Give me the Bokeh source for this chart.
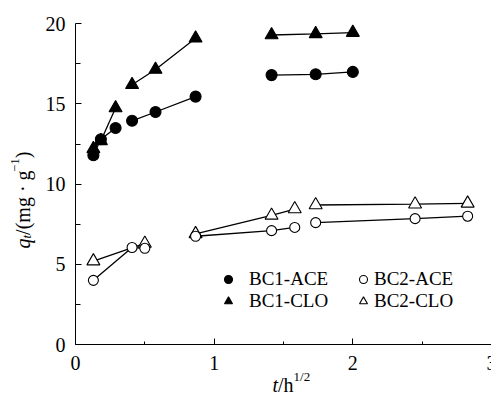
import math
from bokeh.plotting import figure
from bokeh.models import Range1d, FixedTicker, Legend, LegendItem, Label, LinearAxis
from bokeh.core.properties import value
from bokeh.embed import file_html
from bokeh.resources import INLINE

# ---------------- data (t in h^1/2, q in mg/g) ----------------
bc1_ace_t = [0.129, 0.183, 0.289, 0.408, 0.577, 0.866, 1.414, 1.732, 2.000]
bc1_ace_q = [11.8, 12.8, 13.5, 13.95, 14.5, 15.46, 16.8, 16.85, 17.0]
bc1_ace_seg = [1, 1, 1, 2, 2, 2, 3, 3, 3]

bc1_clo_t = [0.129, 0.183, 0.289, 0.408, 0.577, 0.866, 1.414, 1.732, 2.000]
bc1_clo_q = [12.2, 12.7, 14.75, 16.2, 17.15, 19.1, 19.3, 19.37, 19.45]
bc1_clo_seg = [1, 1, 1, 2, 2, 2, 3, 3, 3]

bc2_ace_t = [0.129, 0.408, 0.500, 0.866, 1.414, 1.581, 1.732, 2.449, 2.828]
bc2_ace_q = [4.0, 6.05, 6.0, 6.75, 7.1, 7.3, 7.6, 7.85, 8.0]
bc2_ace_seg = [1, 1, 1, 2, 2, 2, 3, 3, 3]

bc2_clo_t = [0.129, 0.500, 0.866, 1.414, 1.581, 1.732, 2.449, 2.828]
bc2_clo_q = [5.2, 6.3, 6.9, 8.05, 8.45, 8.7, 8.75, 8.8]
bc2_clo_seg = [1, 1, 2, 2, 2, 3, 3, 3]

x_ticks = [0, 1, 2, 3]
x_tick_labels = ["0", "1", "2", "3"]
x_minor = [0.5, 1.5, 2.5]
y_ticks = [0, 5, 10, 15, 20]
y_tick_labels = ["0", "5", "10", "15", "20"]
y_minor = [2.5, 7.5, 12.5, 17.5]

FONT = "Liberation Serif"

W, H = 491, 394
X0, X3 = 75.0, 491.0      # pixel of t=0 and t=3
Y0, Y20 = 344.0, 23.3     # pixel of q=0 and q=20
sx = (X3 - X0) / 3.0
sy = (Y0 - Y20) / 20.0

p = figure(width=W, height=H, output_backend="svg", toolbar_location=None,
           x_axis_location=None, y_axis_location=None,
           x_range=Range1d(-X0 / sx, 3.0),
           y_range=Range1d(-(H - Y0) / sy, 20.0 + Y20 / sy),
           min_border=0, min_border_left=0, min_border_right=0,
           min_border_top=0, min_border_bottom=0)
p.outline_line_color = None
p.grid.visible = False
p.background_fill_color = "white"

xaxis = LinearAxis(fixed_location=0, bounds=(0, 3),
                   ticker=FixedTicker(ticks=x_ticks, minor_ticks=x_minor),
                   major_label_overrides={t: "" for t in x_ticks})
yaxis = LinearAxis(fixed_location=0, bounds=(0, 20),
                   ticker=FixedTicker(ticks=y_ticks, minor_ticks=y_minor),
                   major_label_overrides={t: "" for t in y_ticks})
for ax in (xaxis, yaxis):
    ax.axis_line_color = "black"
    ax.axis_line_width = 1
    ax.major_tick_line_color = "black"
    ax.minor_tick_line_color = "black"
    ax.major_tick_out = 0
    ax.minor_tick_out = 0
    ax.major_tick_in = 6
    ax.major_label_text_font_size = "1px"
xaxis.minor_tick_in = 3
yaxis.minor_tick_in = 5
p.add_layout(xaxis, "below")
p.add_layout(yaxis, "left")

# tick labels (serif), placed at the tick values through the plot scales
p.text(x=x_ticks, y=[0] * len(x_ticks), text=x_tick_labels,
       text_align="center", text_baseline="middle", y_offset=18.5,
       text_font=value(FONT), text_font_size="20px", text_color="black")
p.text(x=[0] * len(y_ticks), y=y_ticks, text=y_tick_labels,
       text_align="right", text_baseline="middle", x_offset=-10, y_offset=0,
       text_font=value(FONT), text_font_size="20px", text_color="black")


def segments(t, q, seg):
    xs, ys = [], []
    for g in sorted(set(seg)):
        xs.append([a for a, s in zip(t, seg) if s == g])
        ys.append([b for b, s in zip(q, seg) if s == g])
    return xs, ys


series = [
    ("BC1-ACE", bc1_ace_t, bc1_ace_q, bc1_ace_seg, "circle", 11, "black"),
    ("BC1-CLO", bc1_clo_t, bc1_clo_q, bc1_clo_seg, "triangle", 13, "black"),
    ("BC2-ACE", bc2_ace_t, bc2_ace_q, bc2_ace_seg, "circle", 10, "white"),
    ("BC2-CLO", bc2_clo_t, bc2_clo_q, bc2_clo_seg, "triangle", 13, "white"),
]

for name, t, q, seg, mk, sz, fill in series:
    xs, ys = segments(t, q, seg)
    p.multi_line(xs, ys, line_color="black", line_width=1.3)

renderers = {}
for name, t, q, seg, mk, sz, fill in series[::-1]:
    r = p.scatter(t, q, marker=mk, size=sz, fill_color=fill,
                  line_color="black", line_width=1.1)
    renderers[name] = r

# legends (one per entry for exact placement); screen coords from bottom-left
leg_pos = {
    "BC1-ACE": (218, 104, 11),
    "BC1-CLO": (218, 82, 11),
    "BC2-ACE": (353, 104, 1),
    "BC2-CLO": (353, 82, 1),
}
for name, (lx, ly, st) in leg_pos.items():
    leg = Legend(items=[LegendItem(label=name, renderers=[renderers[name]])],
                 location=(lx, ly), padding=0, margin=0, spacing=0,
                 glyph_width=20, glyph_height=20, label_height=20,
                 label_standoff=st, border_line_color=None,
                 background_fill_alpha=0,
                 label_text_font=FONT, label_text_font_size="19px",
                 label_text_color="black")
    p.add_layout(leg, "center")

# y-axis label: q_t/(mg · g^-1), rotated, reading upward
yb = 22
pieces_y = [
    ("q", 20, "italic", 0, 0.500 * 20),
    ("t", 13, "italic", 4, 0.278 * 13),
    ("/(mg · g", 20, "normal", 0, (278 + 333 + 778 + 500 + 250 + 250 + 250 + 500) / 1000 * 20),
    ("\u22121", 13, "normal", -8, (564 + 500) / 1000 * 13),
    (")", 20, "normal", 0, 0.333 * 20),
]
pos = 146
for txt, fs, style, dx, w in pieces_y:
    p.add_layout(Label(x=yb + dx, y=pos, x_units="screen", y_units="screen",
                       text=txt, angle=math.pi / 2, text_align="left",
                       text_baseline="alphabetic", text_font=FONT,
                       text_font_size=f"{fs}px", text_font_style=style,
                       text_color="black"))
    pos += w

# x-axis label: t/h^{1/2}
xb = 10
pieces_x = [
    ("t", 20, "italic", 0, 0.278 * 20),
    ("/h", 20, "normal", 0, (278 + 500) / 1000 * 20),
    ("1/2", 13, "normal", 8, (500 + 278 + 500) / 1000 * 13),
]
pos = 272
for txt, fs, style, dy, w in pieces_x:
    p.add_layout(Label(x=pos, y=xb + dy, x_units="screen", y_units="screen",
                       text=txt, text_align="left", text_baseline="alphabetic",
                       text_font=FONT, text_font_size=f"{fs}px",
                       text_font_style=style, text_color="black"))
    pos += w

open("out.html", "w").write(file_html(p, INLINE))
